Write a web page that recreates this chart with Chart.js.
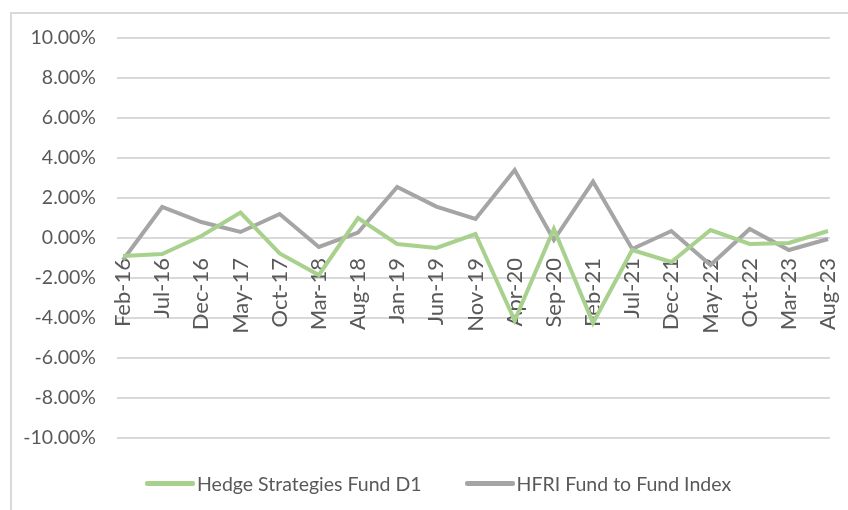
<!DOCTYPE html>
<html>
<head>
<meta charset="utf-8">
<script src="https://cdn.jsdelivr.net/npm/chart.js@4.4.1/dist/chart.umd.min.js"></script>
<style>
  body { margin: 0; background: #fff; }
  #wrap { position: relative; width: 848px; height: 510px; overflow: hidden; }
  #frame { position: absolute; left: 10px; top: 12px; width: 900px; height: 600px; border: 2px solid #d9d9d9; box-sizing: border-box; }
  canvas { position: absolute; left: 0; top: 0; }
  #legend { position: absolute; left: 145px; top: 471px; height: 24px; display: flex; align-items: center;
    font-family: Lato, "Liberation Sans", sans-serif; font-size: 19.5px; color: #595959; white-space: nowrap; }
  .item { display: flex; align-items: center; margin-right: 43px; }
  .swatch { width: 50px; height: 5px; border-radius: 2px; margin-right: 2px; }
</style>
</head>
<body>
<div id="wrap">
  <div id="frame"></div>
  <canvas id="myChart" width="848" height="510"></canvas>
  <div id="legend"></div>
</div>
<script>
const ctx = document.getElementById('myChart')

const months = ['Feb-16','Jul-16','Dec-16','May-17','Oct-17','Mar-18','Aug-18','Jan-19','Jun-19','Nov-19',
  'Apr-20','Sep-20','Feb-21','Jul-21','Dec-21','May-22','Oct-22','Mar-23','Aug-23']
const hedgeFund = [-0.9,-0.8,0.1,1.27,-0.77,-1.85,1.0,-0.3,-0.5,0.2,-4.13,0.45,-4.25,-0.6,-1.2,0.4,-0.3,-0.25,0.35]
const hfriIndex = [-1.1,1.55,0.8,0.3,1.2,-0.45,0.27,2.55,1.57,0.95,3.4,-0.1,2.82,-0.55,0.35,-1.35,0.45,-0.6,-0.05]
const yTicks = [-10,-8,-6,-4,-2,0,2,4,6,8,10]

const font = { family: 'Lato, "Liberation Sans", sans-serif', size: 19.5 }
const xFont = { family: 'Lato, "Liberation Sans", sans-serif', size: 22 }
const textColor = '#595959'

const myChart = new Chart(ctx, {
  type: 'line',
  data: {
    datasets: [{
      label: 'Hedge Strategies Fund D1',
      data: hedgeFund.map((v, i) => ({ x: i, y: v })),
      borderColor: '#a9d18e',
      backgroundColor: '#a9d18e',
      borderWidth: 4,
      pointRadius: 0,
      tension: 0
    }, {
      label: 'HFRI Fund to Fund Index',
      data: hfriIndex.map((v, i) => ({ x: i, y: v })),
      borderColor: '#a5a5a5',
      backgroundColor: '#a5a5a5',
      borderWidth: 4,
      pointRadius: 0,
      tension: 0
    }]
  },
  options: {
    responsive: false,
    animation: false,
    layout: { padding: { left: 0, right: 18, top: 38, bottom: 72 } },
    plugins: {
      tooltip: { enabled: false },
      legend: { display: false }
    },
    scales: {
      x: {
        type: 'linear',
        position: { y: 0 },
        min: -0.153,
        max: 18.05,
        afterBuildTicks: s => { s.ticks = months.map((m, i) => ({ value: i })) },
        afterFit: s => { s.paddingLeft = 0; s.paddingRight = 0; s.paddingTop = 0; s.paddingBottom = 0 },
        ticks: {
          autoSkip: false,
          minRotation: 90,
          maxRotation: 90,
          padding: 12,
          font: xFont,
          color: textColor,
          callback: v => months[v]
        },
        grid: { display: false },
        border: { display: false }
      },
      y: {
        min: -10,
        max: 10,
        afterBuildTicks: s => { s.ticks = yTicks.map(v => ({ value: v })) },
        afterFit: s => { s.width = 117; s.paddingTop = 0; s.paddingBottom = 0 },
        ticks: {
          padding: 21,
          font: font,
          color: textColor,
          callback: v => v.toFixed(2) + '%'
        },
        grid: { color: '#d9d9d9', lineWidth: 2, drawTicks: false },
        border: { display: false }
      }
    }
  }
})

// legend as plain html, built from the datasets
const legend = document.getElementById('legend')
myChart.data.datasets.forEach(ds => {
  const item = document.createElement('div')
  item.className = 'item'
  item.innerHTML = `<span class="swatch" style="background:${ds.borderColor}"></span><span>${ds.label}</span>`
  legend.appendChild(item)
})
</script>
</body>
</html>
